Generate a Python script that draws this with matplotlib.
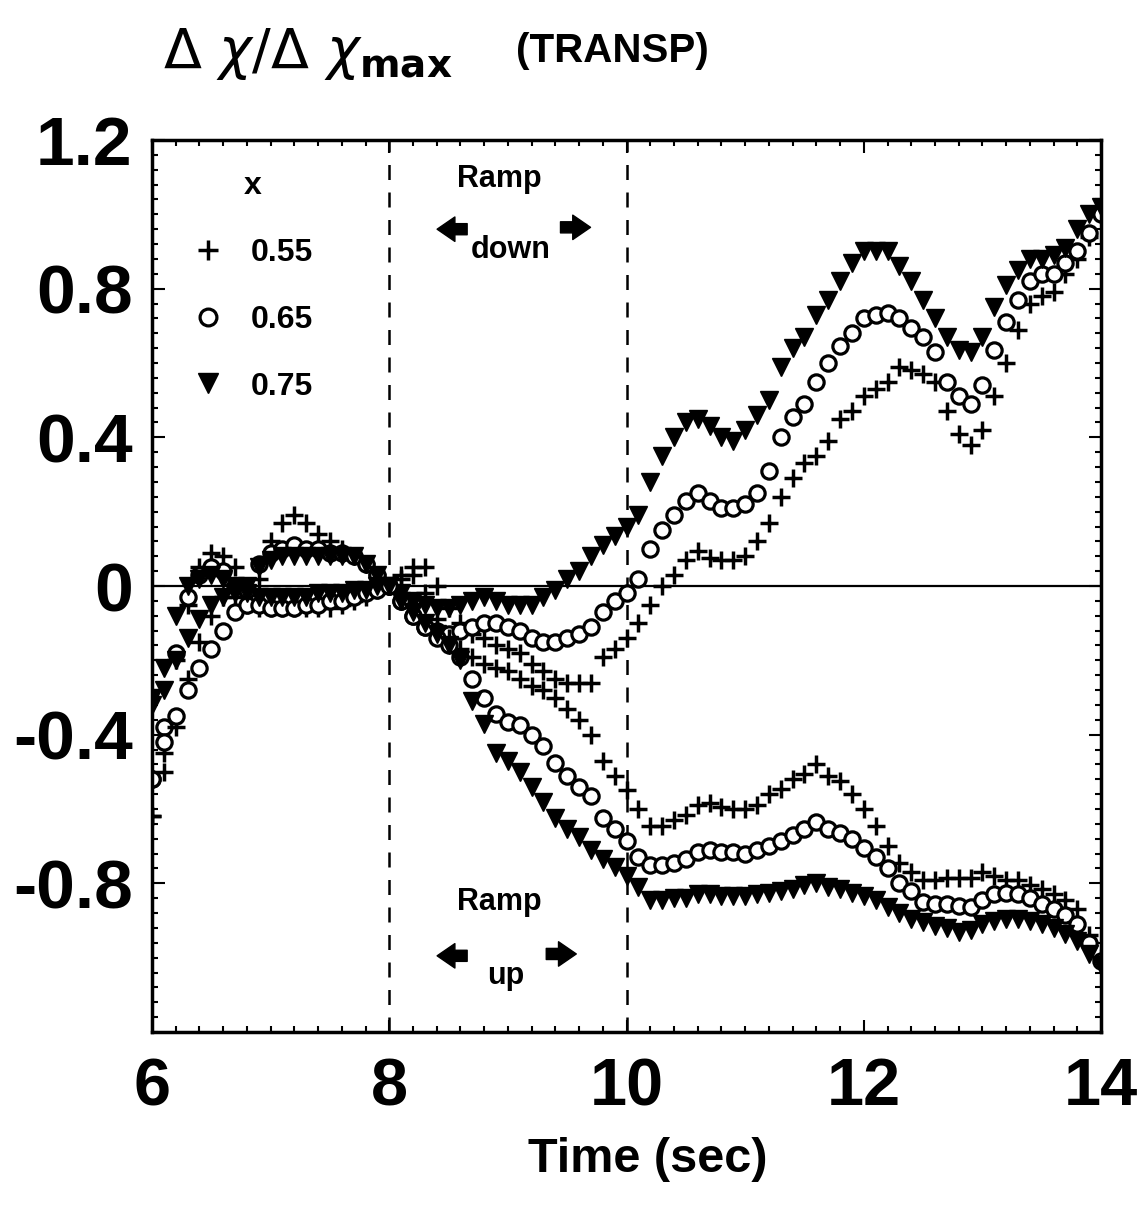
import numpy as np
import matplotlib
matplotlib.use("Agg")
import matplotlib.pyplot as plt
from matplotlib.ticker import MultipleLocator

plt.rcParams['font.family'] = ['Liberation Sans', 'DejaVu Sans']
plt.rcParams['mathtext.fontset'] = 'dejavusans'

# time axis (sec), one sample every 0.1 s
t = np.round(np.arange(6.0, 14.001, 0.1), 1)

# ramp down branch (values end at +1)
down_055 = [-0.62, -0.45, -0.20, -0.05, 0.05, 0.09, 0.08, 0.05, 0.00, 0.02,
            0.12, 0.17, 0.19, 0.17, 0.14, 0.12, 0.10, 0.08, 0.06, 0.03,
            0.00, 0.03, 0.05, 0.05, 0.00, -0.06, -0.10, -0.13, -0.14, -0.16,
            -0.17, -0.18, -0.21, -0.23, -0.25, -0.26, -0.26, -0.26, -0.19, -0.17,
            -0.14, -0.10, -0.05, 0.00, 0.03, 0.07, 0.095, 0.075, 0.07, 0.07,
            0.08, 0.12, 0.17, 0.24, 0.29, 0.33, 0.35, 0.39, 0.45, 0.47,
            0.51, 0.53, 0.55, 0.59, 0.58, 0.57, 0.55, 0.47, 0.41, 0.38,
            0.42, 0.51, 0.60, 0.69, 0.76, 0.78, 0.79, 0.84, 0.88, 0.94,
            1.00]
down_065 = [-0.52, -0.38, -0.18, -0.03, 0.03, 0.05, 0.04, 0.00, -0.01, 0.06,
            0.09, 0.10, 0.11, 0.10, 0.10, 0.09, 0.09, 0.08, 0.06, 0.03,
            0.00, -0.04, -0.08, -0.11, -0.12, -0.13, -0.12, -0.11, -0.10, -0.10,
            -0.11, -0.12, -0.14, -0.15, -0.15, -0.14, -0.13, -0.11, -0.07, -0.04,
            -0.02, 0.02, 0.10, 0.15, 0.19, 0.23, 0.25, 0.23, 0.21, 0.21,
            0.22, 0.25, 0.31, 0.40, 0.455, 0.49, 0.55, 0.60, 0.645, 0.68,
            0.72, 0.73, 0.735, 0.72, 0.695, 0.67, 0.63, 0.55, 0.51, 0.49,
            0.54, 0.635, 0.71, 0.77, 0.82, 0.84, 0.84, 0.87, 0.90, 0.95,
            1.00]
down_075 = [-0.30, -0.22, -0.08, 0.00, 0.02, 0.03, 0.02, 0.00, 0.00, 0.05,
            0.07, 0.08, 0.08, 0.08, 0.08, 0.08, 0.08, 0.08, 0.06, 0.03,
            0.00, -0.02, -0.04, -0.05, -0.06, -0.06, -0.05, -0.04, -0.03, -0.04,
            -0.05, -0.05, -0.05, -0.03, -0.01, 0.02, 0.04, 0.08, 0.11, 0.135,
            0.16, 0.19, 0.28, 0.35, 0.40, 0.44, 0.45, 0.43, 0.40, 0.39,
            0.42, 0.46, 0.50, 0.59, 0.64, 0.67, 0.73, 0.77, 0.82, 0.87,
            0.90, 0.90, 0.90, 0.86, 0.82, 0.77, 0.72, 0.67, 0.635, 0.63,
            0.67, 0.75, 0.81, 0.85, 0.88, 0.88, 0.89, 0.91, 0.96, 1.00,
            1.02]

# ramp up branch (values end at -1)
up_055 = [-0.62, -0.50, -0.38, -0.25, -0.15, -0.08, -0.03, -0.03, -0.05, -0.06,
          -0.06, -0.06, -0.06, -0.06, -0.06, -0.06, -0.05, -0.04, -0.03, -0.01,
          0.00, 0.02, 0.03, -0.02, -0.09, -0.14, -0.17, -0.19, -0.21, -0.22,
          -0.23, -0.25, -0.27, -0.28, -0.30, -0.33, -0.36, -0.40, -0.47, -0.51,
          -0.55, -0.60, -0.645, -0.645, -0.63, -0.615, -0.59, -0.585, -0.595, -0.60,
          -0.60, -0.59, -0.56, -0.545, -0.52, -0.505, -0.48, -0.51, -0.525, -0.56,
          -0.60, -0.645, -0.70, -0.745, -0.77, -0.79, -0.79, -0.785, -0.785, -0.785,
          -0.77, -0.78, -0.79, -0.79, -0.805, -0.815, -0.83, -0.845, -0.87, -0.94,
          -1.00]
up_065 = [-0.52, -0.42, -0.35, -0.28, -0.22, -0.17, -0.12, -0.07, -0.05, -0.05,
          -0.06, -0.06, -0.06, -0.05, -0.05, -0.04, -0.04, -0.03, -0.02, -0.01,
          0.00, -0.04, -0.08, -0.11, -0.14, -0.16, -0.19, -0.25, -0.30, -0.345,
          -0.365, -0.375, -0.40, -0.43, -0.475, -0.51, -0.54, -0.565, -0.625, -0.655,
          -0.685, -0.73, -0.75, -0.75, -0.745, -0.735, -0.715, -0.71, -0.715, -0.715,
          -0.72, -0.71, -0.70, -0.685, -0.67, -0.655, -0.635, -0.655, -0.665, -0.68,
          -0.705, -0.73, -0.76, -0.80, -0.82, -0.85, -0.855, -0.855, -0.86, -0.865,
          -0.845, -0.83, -0.825, -0.83, -0.84, -0.855, -0.87, -0.885, -0.91, -0.96,
          -1.01]
up_075 = [-0.32, -0.28, -0.20, -0.14, -0.09, -0.05, -0.03, -0.02, -0.02, -0.03,
          -0.03, -0.03, -0.03, -0.03, -0.02, -0.02, -0.02, -0.01, -0.01, 0.00,
          0.00, -0.04, -0.07, -0.10, -0.13, -0.16, -0.20, -0.31, -0.37, -0.45,
          -0.47, -0.50, -0.54, -0.58, -0.625, -0.655, -0.675, -0.71, -0.735, -0.755,
          -0.78, -0.81, -0.845, -0.845, -0.84, -0.84, -0.83, -0.83, -0.835, -0.835,
          -0.835, -0.83, -0.825, -0.82, -0.815, -0.805, -0.80, -0.81, -0.815, -0.825,
          -0.835, -0.845, -0.865, -0.88, -0.895, -0.905, -0.915, -0.92, -0.93, -0.925,
          -0.91, -0.90, -0.895, -0.895, -0.90, -0.91, -0.92, -0.935, -0.955, -0.99,
          -1.02]

x_labels = ['0.55', '0.65', '0.75']
yticks = [-0.8, -0.4, 0, 0.4, 0.8, 1.2]
ytick_labels = ['-0.8', '-0.4', '0', '0.4', '0.8', '1.2']
xticks = [6, 8, 10, 12, 14]

fig = plt.figure(figsize=(11.41, 12.10), dpi=100)
ax = fig.add_axes([0.1332, 0.1471, 0.8318, 0.7372])

plus_kw = dict(linestyle='none', marker='+', ms=13, mew=2.5, color='black')
circ_kw = dict(linestyle='none', marker='o', ms=11, mew=2.3, mfc='white', mec='black')
tri_kw = dict(linestyle='none', marker='v', ms=13, color='black')

h1, = ax.plot(t, down_055, **plus_kw)
h2, = ax.plot(t, down_065, **circ_kw)
h3, = ax.plot(t, down_075, **tri_kw)
ax.plot(t, up_055, **plus_kw)
ax.plot(t, up_065, **circ_kw)
ax.plot(t, up_075, **tri_kw)

ax.axhline(0, color='black', lw=1.6, zorder=0)
for xv in (8, 10):
    ax.axvline(xv, color='black', lw=1.8, ls=(0, (6, 5)), zorder=0)

ax.set_xlim(6, 14)
ax.set_ylim(-1.2, 1.2)
ax.set_xticks(xticks)
ax.set_xticklabels([str(v) for v in xticks])
ax.set_yticks(yticks)
ax.set_yticklabels(ytick_labels)
ax.xaxis.set_minor_locator(MultipleLocator(0.2))
ax.yaxis.set_minor_locator(MultipleLocator(0.04))
ax.tick_params(which='both', direction='in', top=True, right=True, width=1.5)
ax.tick_params(which='major', length=9)
ax.tick_params(which='minor', length=4)
ax.tick_params(axis='y', which='major', pad=14, labelsize=50)
ax.tick_params(axis='x', which='major', pad=18, labelsize=48)
for lab in ax.get_xticklabels() + ax.get_yticklabels():
    lab.set_fontweight('bold')
for sp in ax.spines.values():
    sp.set_linewidth(2.5)

ax.set_xlabel('Time (sec)', fontsize=35, fontweight='bold')
ax.xaxis.set_label_coords(0.522, -0.118)

# legend with title x
leg = ax.legend([h1, h2, h3], x_labels, title='x', loc='upper left',
                bbox_to_anchor=(0.012, 0.997), frameon=False, fontsize=23,
                title_fontsize=23, labelspacing=1.15, handletextpad=0.85,
                handlelength=1.0, markerscale=1.1)
for txt in leg.get_texts():
    txt.set_fontweight('bold')
leg.get_title().set_fontweight('bold')

# ramp annotations
arrow = dict(arrowstyle='simple,head_width=1.1,head_length=0.8,tail_width=0.5',
             color='black', mutation_scale=16)
ax.text(8.93, 1.095, 'Ramp', ha='center', va='center', fontsize=22, fontweight='bold')
ax.text(9.02, 0.905, 'down', ha='center', va='center', fontsize=22, fontweight='bold')
ax.annotate('', xy=(8.38, 0.96), xytext=(8.68, 0.96), arrowprops=arrow)
ax.annotate('', xy=(9.72, 0.965), xytext=(9.42, 0.965), arrowprops=arrow)

ax.text(8.93, -0.85, 'Ramp', ha='center', va='center', fontsize=22, fontweight='bold')
ax.text(8.98, -1.05, 'up', ha='center', va='center', fontsize=22, fontweight='bold')
ax.annotate('', xy=(8.38, -0.995), xytext=(8.68, -0.995), arrowprops=arrow)
ax.annotate('', xy=(9.6, -0.99), xytext=(9.3, -0.99), arrowprops=arrow)

# title
fig.text(0.143, 0.955, r'$\Delta\ \chi/\Delta\ \chi_{\mathbf{max}}$', fontsize=40,
         ha='left', va='center')
fig.text(0.452, 0.958, '(TRANSP)', fontsize=29, fontweight='bold',
         ha='left', va='center')

fig.savefig('out.png', dpi=100)
